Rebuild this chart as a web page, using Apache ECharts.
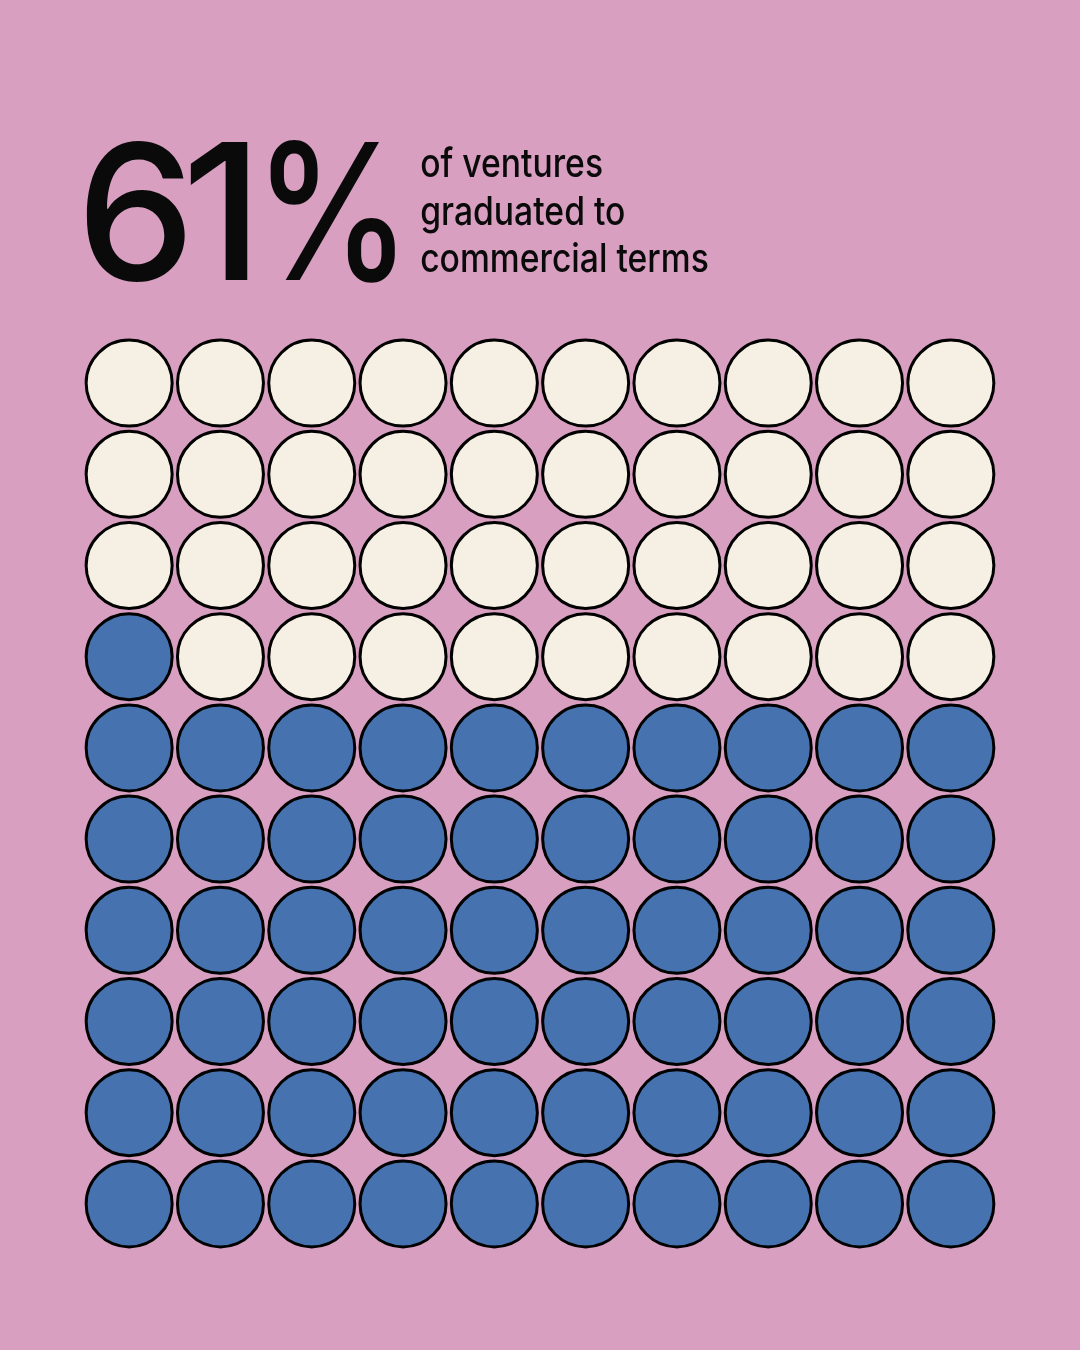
<!DOCTYPE html>
<html>
<head>
<meta charset="utf-8">
<title>61% of ventures graduated to commercial terms</title>
<script src="https://cdn.jsdelivr.net/npm/echarts@6/dist/echarts.min.js"></script>
<style>
  html, body { margin: 0; padding: 0; background: #d89fc0; }
  #chart { width: 1080px; height: 1350px; }
</style>
</head>
<body>
<div id="chart"></div>
<script>
// headline numbers
var headline = ['6', '1', '%'];
var caption = ['of ventures', 'graduated to', 'commercial terms'];

// waffle grid, rows top to bottom, how many cells of each row are filled
var columns = [0, 1, 2, 3, 4, 5, 6, 7, 8, 9];
var rows = [0, 1, 2, 3, 4, 5, 6, 7, 8, 9];
var filledPerRow = [0, 0, 0, 1, 10, 10, 10, 10, 10, 10];

var filled = [], empty = [];
rows.forEach(function (r) {
  columns.forEach(function (c) {
    if (c < filledPerRow[r]) filled.push([c, r]);
    else empty.push([c, r]);
  });
});

// the original type is a tightly set grotesk, Inter is squeezed to the same ink boxes
var measureCtx = document.createElement('canvas').getContext('2d');
function ink(str, font, baseline) {
  measureCtx.font = font;
  measureCtx.textBaseline = baseline || 'alphabetic';
  measureCtx.textAlign = 'left';
  return measureCtx.measureText(str);
}

// text element whose ink starts at inkLeft, sits on baseline, and is inkWidth wide
function fitText(str, font, inkLeft, baseline, inkWidth) {
  var a = ink(str, font, 'alphabetic');
  var m = ink(str, font, 'middle');
  var w = a.actualBoundingBoxLeft + a.actualBoundingBoxRight;
  var s = inkWidth ? inkWidth / w : 1;
  return {
    type: 'text',
    x: inkLeft + s * a.actualBoundingBoxLeft,
    y: baseline - (a.actualBoundingBoxAscent - m.actualBoundingBoxAscent),
    scaleX: s,
    silent: true,
    style: {
      text: str,
      font: font,
      fill: '#0a0a0a',
      align: 'left',
      verticalAlign: 'middle'
    }
  };
}

// big figure, sized from the height of the "1"
var oneAscent = ink('1', '500 100px Inter').actualBoundingBoxAscent;
var bigSize = Math.round(138 / oneAscent * 100);
var bigFont = '500 ' + bigSize + 'px Inter';
var bigBoxes = [[86.5, 98.5], [190, 58], [270, 125]];

var graphics = headline.map(function (ch, i) {
  return fitText(ch, bigFont, bigBoxes[i][0], 280, bigBoxes[i][1]);
});

var capFont = '500 39px Inter';
var capWidth = ink(caption[2], capFont);
var capScale = 287 / (capWidth.actualBoundingBoxLeft + capWidth.actualBoundingBoxRight);
var capBaselines = [177, 224.5, 271.5];
caption.forEach(function (line, i) {
  var m = ink(line, capFont);
  var w = (m.actualBoundingBoxLeft + m.actualBoundingBoxRight) * capScale;
  graphics.push(fitText(line, capFont, 421, capBaselines[i], w));
});

var chart = echarts.init(document.getElementById('chart'), null, { renderer: 'canvas' });

var option = {
  backgroundColor: '#d89fc0',
  animation: false,
  grid: {
    left: 83.5,
    top: 337.5,
    width: 913,
    height: 912
  },
  xAxis: {
    type: 'value', min: -0.5, max: 9.5, show: false
  },
  yAxis: {
    type: 'value', min: -0.5, max: 9.5, inverse: true, show: false
  },
  graphic: graphics,
  series: [
    {
      name: 'not graduated',
      type: 'scatter',
      symbol: 'circle',
      symbolSize: 86,
      data: empty,
      itemStyle: { color: '#f6f0e4', borderColor: '#000', borderWidth: 3, opacity: 1 },
      emphasis: { disabled: true }
    },
    {
      name: 'graduated',
      type: 'scatter',
      symbol: 'circle',
      symbolSize: 86,
      data: filled,
      itemStyle: { color: '#4672af', borderColor: '#000', borderWidth: 3, opacity: 1 },
      emphasis: { disabled: true }
    }
  ]
};

chart.setOption(option);
</script>
</body>
</html>
